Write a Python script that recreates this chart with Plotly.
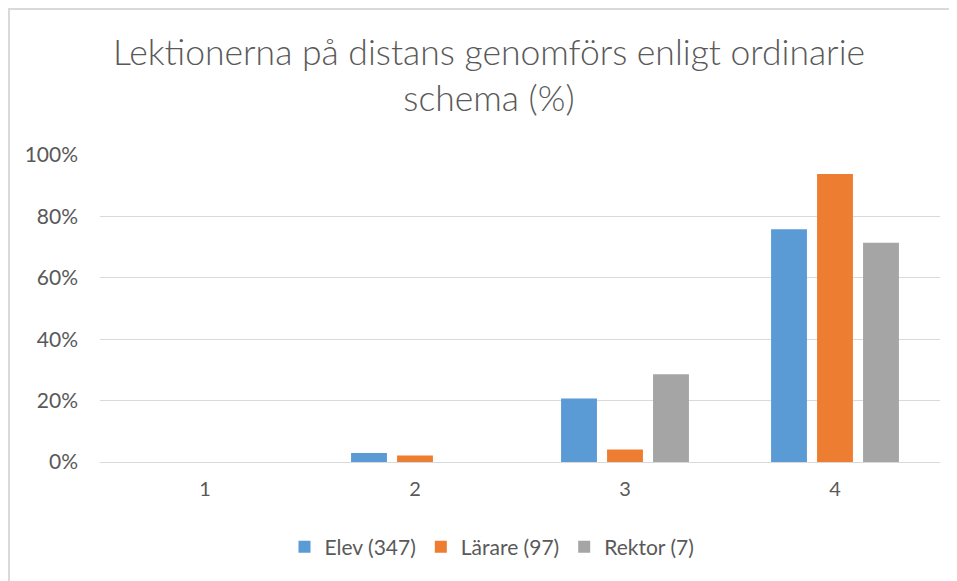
import plotly.graph_objects as go

categories = ["1", "2", "3", "4"]
elev = [0, 2.9, 20.7, 75.8]
larare = [0, 2.1, 4.1, 93.8]
rektor = [0, 0, 28.6, 71.4]
series_names = ["Elev (347)", "Lärare (97)", "Rektor (7)"]
colors = ["#5B9BD5", "#ED7D31", "#A5A5A5"]
y_ticks = [0, 20, 40, 60, 80, 100]
y_tick_labels = ["0%", "20%", "40%", "60%", "80%", "100%"]

fig = go.Figure()
for name, vals, c in zip(series_names, [elev, larare, rektor], colors):
    fig.add_trace(go.Bar(x=categories, y=vals, name=name, marker=dict(color=c, line=dict(width=0))))

font_main = "Lato, 'Open Sans', sans-serif"
W, H = 949, 573
fig.update_layout(
    width=W, height=H,
    margin=dict(l=92, r=17, t=147, b=119),
    paper_bgcolor="white", plot_bgcolor="white",
    barmode="group", bargap=0.343, bargroupgap=0.22,
    title=dict(text="Lektionerna på distans genomförs enligt ordinarie<br>schema (%)",
               x=481 / W, xref="container", xanchor="center", y=1 - 57 / H, yref="container",
               yanchor="middle",
               font=dict(family=font_main, size=35.5, color="#595959", weight=300)),
    font=dict(family=font_main, size=20, color="#595959"),
    xaxis=dict(showgrid=False, showline=False, ticks="", tickfont=dict(size=20, color="#595959"),
               zeroline=False, ticklabelstandoff=13),
    yaxis=dict(range=[0, 100], tickvals=y_ticks, ticktext=y_tick_labels, showgrid=True,
               gridcolor="#D9D9D9", gridwidth=1, zeroline=True, zerolinecolor="#D9D9D9",
               zerolinewidth=1, showline=False, ticks="", ticklen=0,
               tickfont=dict(size=21, color="#595959"), ticklabelstandoff=21),
    legend=dict(orientation="h", x=(492 - 8 - 92) / 840, xanchor="center",
                y=(454 - 539) / 307, yanchor="middle",
                font=dict(size=21, color="#595959"), traceorder="normal"),
    showlegend=True,
)
fig.add_shape(type="rect", xref="paper", yref="paper",
              x0=-91 / 840, x1=1.2, y0=-0.6, y1=453 / 307,
              line=dict(color="#D9D9D9", width=2), fillcolor="rgba(0,0,0,0)", layer="below")
fig.write_html("out.html")
